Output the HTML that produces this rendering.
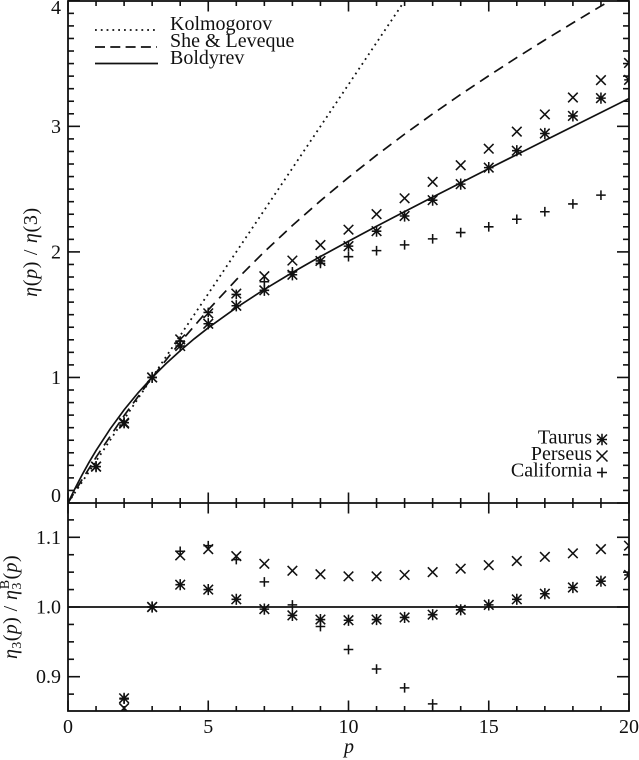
<!DOCTYPE html>
<html lang="en">
<head>
<meta charset="utf-8">
<title>Structure function scaling exponents</title>
<style>
html,body{margin:0;padding:0;background:#fff;width:639px;height:760px;overflow:hidden}
svg{display:block}
text{font-family:"Liberation Serif","DejaVu Serif",serif;fill:#111}
</style>
</head>
<body>
<svg id="chart" xmlns="http://www.w3.org/2000/svg" width="639" height="760" viewBox="0 0 639 760">
  <defs>
    <clipPath id="clip-top"><rect x="68" y="1" width="561" height="502"/></clipPath>
    <clipPath id="clip-bottom"><rect x="68" y="503" width="561" height="208"/></clipPath>
  </defs>
  <g id="top-ticks"></g>
  <g id="bottom-ticks"></g>
  <g id="top-plot" clip-path="url(#clip-top)"></g>
  <g id="bottom-plot" clip-path="url(#clip-bottom)"></g>
  <g id="tick-labels" font-size="20"></g>
  <rect x="68" y="1" width="561" height="710" fill="none" stroke="#111" stroke-width="1.8"/>
  <line x1="68" x2="629" y1="503" y2="503" stroke="#111" stroke-width="1.8"/>

  <g font-size="20">
    <line x1="95" x2="158" y1="30" y2="30" stroke="#111" stroke-width="1.8" stroke-dasharray="1.8 4"/>
    <text x="170" y="30">Kolmogorov</text>
    <line x1="95" x2="157" y1="47" y2="47" stroke="#111" stroke-width="1.7" stroke-dasharray="10 5.3"/>
    <text x="170" y="47">She &amp; Leveque</text>
    <line x1="95" x2="158" y1="63.5" y2="63.5" stroke="#111" stroke-width="1.7"/>
    <text x="170" y="64">Boldyrev</text>
  </g>

  <g font-size="20" text-anchor="end">
    <text x="592" y="443.5">Taurus</text>
    <text x="592" y="460">Perseus</text>
    <text x="592" y="476.5">California</text>
  </g>
  <g id="cloud-legend-marks"></g>

  <text transform="translate(37,252) rotate(-90)" text-anchor="middle" font-size="20" letter-spacing="0.7"><tspan font-style="italic">η</tspan>(<tspan font-style="italic">p</tspan>) / <tspan font-style="italic">η</tspan>(3)</text>
  <text transform="translate(17,607) rotate(-90)" text-anchor="middle" font-size="20" letter-spacing="0.4"><tspan font-style="italic">η</tspan><tspan font-size="14" dy="4">3</tspan><tspan dy="-4">(</tspan><tspan font-style="italic">p</tspan>) / <tspan font-style="italic">η</tspan><tspan font-size="14" dy="4">3</tspan><tspan font-size="14" dx="-7" dy="-12">B</tspan><tspan dy="8">(</tspan><tspan font-style="italic">p</tspan>)</text>
  <text x="349" y="753" text-anchor="middle" font-size="20" font-style="italic">p</text>
</svg>
<script>
const topP = [1,2,3,4,5,6,7,8,9,10,11,12,13,14,15,16,17,18,19,20];
const topTaurus = [0.29,0.639,1,1.25,1.428,1.571,1.694,1.818,1.928,2.046,2.165,2.286,2.412,2.54,2.671,2.806,2.943,3.083,3.225,3.37];
const topPerseus = [0.29,0.632,1,1.303,1.511,1.668,1.806,1.931,2.055,2.177,2.301,2.427,2.558,2.69,2.822,2.958,3.095,3.23,3.368,3.505];
const topCalifornia = [0.29,0.64,1,1.29,1.518,1.661,1.762,1.841,1.908,1.962,2.01,2.056,2.104,2.154,2.2,2.26,2.32,2.382,2.452];

const ratioP = [2,3,4,5,6,7,8,9,10,11,12,13,14,15,16,17,18,19,20];
const ratioTaurus = [0.869,1,1.032,1.025,1.011,0.997,0.988,0.982,0.981,0.982,0.985,0.989,0.996,1.003,1.011,1.019,1.028,1.037,1.046];
const ratioPerseus = [0.855,1,1.074,1.083,1.073,1.062,1.052,1.047,1.044,1.044,1.046,1.05,1.055,1.06,1.066,1.072,1.077,1.083,1.088];
const ratioCalifornia = [0.868,1,1.08,1.088,1.068,1.036,1.003,0.972,0.939,0.911,0.884,0.861];

// Model curves
const kolmogorovP = [0,3,6,9,12,15];
const kolmogorovV = [0,1,2,3,4,5];
const sheP = [0,0.5,1,2,3,4,5,6,7,8,9,10,11,12,13,14,15,16,17,18,19,20];
const sheV = [0,0.186,0.364,0.696,1,1.28,1.538,1.778,2.001,2.21,2.407,2.593,2.77,2.938,3.099,3.254,3.403,3.548,3.688,3.824,3.958,4.088];
const boldyrevP = [0,0.25,0.5,0.75,1,1.5,2,2.5,3,3.5,4,4.5,5,6,7,8,9,10,11,12,13,14,15,16,17,18,19,20];
const boldyrevV = [0,0.115,0.223,0.324,0.418,0.589,0.742,0.878,1,1.111,1.213,1.308,1.395,1.556,1.701,1.836,1.963,2.085,2.204,2.321,2.436,2.55,2.663,2.775,2.887,2.999,3.11,3.222];
const referenceP = [0,20];
const referenceV = [1,1];

// Tick values and labels
const xTickLabels = ['0','5','10','15','20'];
const xTickValues = [0,5,10,15,20];
const xMinorValues = [1,2,3,4,6,7,8,9,11,12,13,14,16,17,18,19];
const topMajorValues = [0,1,2,3,4];
const topMinorValues = [0.1,0.2,0.3,0.4,0.5,0.6,0.7,0.8,0.9,1.1,1.2,1.3,1.4,1.5,1.6,1.7,1.8,1.9,2.1,2.2,2.3,2.4,2.5,2.6,2.7,2.8,2.9,3.1,3.2,3.3,3.4,3.5,3.6,3.7,3.8,3.9];
const topLabels = ['0','1','2','3','4'];
const bottomMajorValues = [0.9,1.0,1.1];
const bottomMinorValues = [0.875,0.925,0.95,0.975,1.025,1.05,1.075,1.125];
const bottomLabels = ['0.9','1.0','1.1'];

const NS = 'http://www.w3.org/2000/svg';
const INK = '#111';

function xAxis(p){ return 68 + p * 28.05; }
function yTopAxis(v){ return 503 - v * 125.55; }
function yBottomAxis(v){ return 607 - (v - 1) * 697; }

function make(tag, parent){
  const el = document.createElementNS(NS, tag);
  parent.appendChild(el);
  return el;
}
function setLine(el, x1, y1, x2, y2, width){
  el.setAttribute('x1', x1);
  el.setAttribute('y1', y1);
  el.setAttribute('x2', x2);
  el.setAttribute('y2', y2);
  el.setAttribute('stroke', INK);
  el.setAttribute('stroke-width', width);
}
function drawTick(parent, x1, y1, x2, y2){
  const el = make('line', parent);
  
  
  setLine(el, x1, y1, x2, y2, 1.6);
}
function drawCurve(parent, name, ps, vs, yAxis, dash, width){
  const el = make('polyline', parent);
  
  
  el.setAttribute('points', ps.map(function(p, i){ return xAxis(p).toFixed(2) + ',' + yAxis(vs[i]).toFixed(2); }).join(' '));
  el.setAttribute('fill', 'none');
  el.setAttribute('stroke', INK);
  el.setAttribute('stroke-width', width);
  if (dash) el.setAttribute('stroke-dasharray', dash);
}
function markerPath(kind, x, y, r){
  const cross = 'M' + (x-r) + ' ' + (y-r) + 'L' + (x+r) + ' ' + (y+r) + 'M' + (x-r) + ' ' + (y+r) + 'L' + (x+r) + ' ' + (y-r);
  const plus = 'M' + (x-r) + ' ' + y + 'L' + (x+r) + ' ' + y + 'M' + x + ' ' + (y-r) + 'L' + x + ' ' + (y+r);
  const vertical = 'M' + x + ' ' + (y-r-0.8) + 'L' + x + ' ' + (y+r+0.8);
  const horizontal = 'M' + (x-r) + ' ' + y + 'L' + (x+r) + ' ' + y;
  if (kind === 'cross') return cross;
  if (kind === 'plus') return plus;
  return cross + vertical + horizontal;
}
function drawMarks(parent, name, kind, ps, vs, yAxis){
  ps.forEach(function(p, i){
    if (vs[i] === undefined) return;
    const el = make('path', parent);
    
    
    el.setAttribute('d', markerPath(kind, xAxis(p), yAxis(vs[i]), 4.8));
    el.setAttribute('fill', 'none');
    el.setAttribute('stroke', INK);
    el.setAttribute('stroke-width', '1.55');
  });
}
function drawLabel(parent, name, text, x, y, anchor){
  const el = make('text', parent);
  
  
  el.setAttribute('x', x);
  el.setAttribute('y', y);
  el.setAttribute('text-anchor', anchor);
  el.textContent = text;
}

const topTicks = document.getElementById('top-ticks');
const bottomTicks = document.getElementById('bottom-ticks');
const topPlot = document.getElementById('top-plot');
const bottomPlot = document.getElementById('bottom-plot');
const labels = document.getElementById('tick-labels');
const legendMarks = document.getElementById('cloud-legend-marks');

// X ticks on each horizontal edge
xTickValues.forEach(function(p){
  const x = xAxis(p);
  drawTick(topTicks, x, 1, x, 11.5);
  drawTick(topTicks, x, 503, x, 492.5);
  drawTick(bottomTicks, x, 503, x, 513.5);
  drawTick(bottomTicks, x, 711, x, 700.5);
});
xMinorValues.forEach(function(p){
  const x = xAxis(p);
  drawTick(topTicks, x, 1, x, 6);
  drawTick(topTicks, x, 503, x, 498);
  drawTick(bottomTicks, x, 503, x, 508);
  drawTick(bottomTicks, x, 711, x, 706);
});

// Y ticks on both vertical edges
topMajorValues.forEach(function(v){
  const y = yTopAxis(v);
  drawTick(topTicks, 68, y, 80, y);
  drawTick(topTicks, 629, y, 617, y);
});
topMinorValues.forEach(function(v){
  const y = yTopAxis(v);
  drawTick(topTicks, 68, y, 74, y);
  drawTick(topTicks, 629, y, 623, y);
});
bottomMajorValues.forEach(function(v){
  const y = yBottomAxis(v);
  drawTick(bottomTicks, 68, y, 80, y);
  drawTick(bottomTicks, 629, y, 617, y);
});
bottomMinorValues.forEach(function(v){
  const y = yBottomAxis(v);
  drawTick(bottomTicks, 68, y, 74, y);
  drawTick(bottomTicks, 629, y, 623, y);
});

// Tick labels
xTickValues.forEach(function(p, i){
  drawLabel(labels, 'x-tick-label', xTickLabels[i], xAxis(p), 733, 'middle');
});
topMajorValues.forEach(function(v, i){
  const nudge = v === 0 ? -1 : (v === 4 ? 13 : 6.5);
  drawLabel(labels, 'top-y-tick-label', topLabels[i], 61, yTopAxis(v) + nudge, 'end');
});
bottomMajorValues.forEach(function(v, i){
  drawLabel(labels, 'bottom-y-tick-label', bottomLabels[i], 61, yBottomAxis(v) + 6.5, 'end');
});

// Top panel series
drawCurve(topPlot, 'kolmogorov-curve', kolmogorovP, kolmogorovV, yTopAxis, '1.8 4', 1.8);
drawCurve(topPlot, 'she-leveque-curve', sheP, sheV, yTopAxis, '10.5 6.5', 1.7);
drawCurve(topPlot, 'boldyrev-curve', boldyrevP, boldyrevV, yTopAxis, '', 1.7);
drawMarks(topPlot, 'taurus-point', 'star', topP, topTaurus, yTopAxis);
drawMarks(topPlot, 'perseus-point', 'cross', topP, topPerseus, yTopAxis);
drawMarks(topPlot, 'california-point', 'plus', topP, topCalifornia, yTopAxis);

// Bottom panel series
drawCurve(bottomPlot, 'boldyrev-reference-line', referenceP, referenceV, yBottomAxis, '', 1.7);
drawMarks(bottomPlot, 'taurus-ratio-point', 'star', ratioP, ratioTaurus, yBottomAxis);
drawMarks(bottomPlot, 'perseus-ratio-point', 'cross', ratioP, ratioPerseus, yBottomAxis);
drawMarks(bottomPlot, 'california-ratio-point', 'plus', ratioP, ratioCalifornia, yBottomAxis);

// Legend glyphs for the clouds
const legendTaurus = make('path', legendMarks);


legendTaurus.setAttribute('d', markerPath('star', 602, 439.5, 5));
legendTaurus.setAttribute('fill', 'none');
legendTaurus.setAttribute('stroke', INK);
legendTaurus.setAttribute('stroke-width', '1.55');
const legendPerseus = make('path', legendMarks);


legendPerseus.setAttribute('d', markerPath('cross', 602, 456, 5.5));
legendPerseus.setAttribute('fill', 'none');
legendPerseus.setAttribute('stroke', INK);
legendPerseus.setAttribute('stroke-width', '1.55');
const legendCalifornia = make('path', legendMarks);


legendCalifornia.setAttribute('d', markerPath('plus', 602, 472.5, 5));
legendCalifornia.setAttribute('fill', 'none');
legendCalifornia.setAttribute('stroke', INK);
legendCalifornia.setAttribute('stroke-width', '1.55');
</script>
</body>
</html>
